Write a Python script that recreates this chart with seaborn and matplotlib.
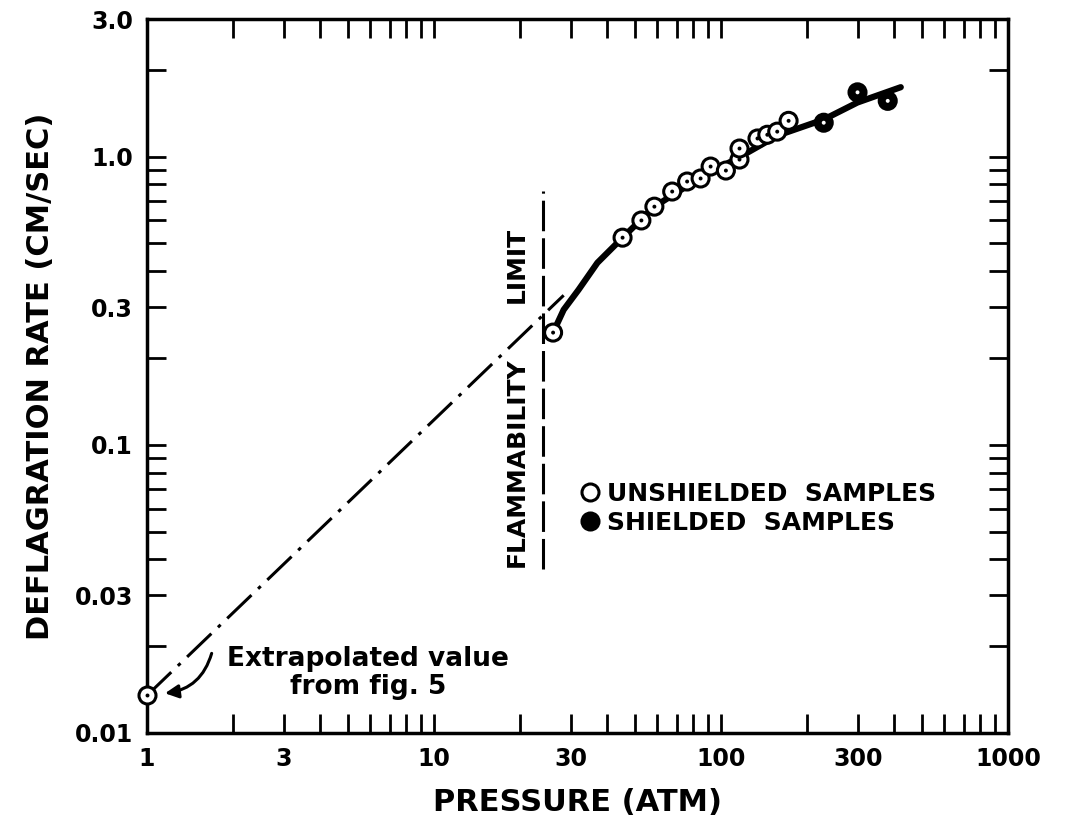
import pandas as pd
import matplotlib
matplotlib.use("Agg")
import matplotlib.pyplot as plt
import seaborn as sns
from matplotlib.ticker import NullFormatter

# values (pressure in atm, rate in cm/sec)
unshielded_p = [26.0, 45.4, 52.8, 58.6, 67.6, 76.2, 84.9, 92.0, 104, 116, 116, 134, 145, 157, 172]
unshielded_r = [0.245, 0.523, 0.600, 0.670, 0.756, 0.819, 0.839, 0.923, 0.894, 0.976, 1.066, 1.155, 1.19, 1.22, 1.33]
shielded_p = [228, 299, 381]
shielded_r = [1.31, 1.67, 1.56]

curve_p = [26.0, 28.3, 31.9, 37.1, 45.4, 58.6, 84.9, 117, 157.5, 228, 299, 423]
curve_r = [0.245, 0.294, 0.345, 0.428, 0.523, 0.670, 0.846, 1.0, 1.183, 1.344, 1.54, 1.74]

extrap_p = [1.0, 28.3]
extrap_r = [0.0135, 0.33]

limit_p = [24, 24]
limit_r = [0.037, 0.76]

x_ticks = [1, 3, 10, 30, 100, 300, 1000]
x_tick_labels = ["1", "3", "10", "30", "100", "300", "1000"]
y_ticks = [0.01, 0.03, 0.1, 0.3, 1.0, 3.0]
y_tick_labels = ["0.01", "0.03", "0.1", "0.3", "1.0", "3.0"]

sns.set_style("ticks")
plt.rcParams['font.family'] = ['DejaVu Sans']
plt.rcParams['font.weight'] = 'bold'
for key in ["text.color", "axes.labelcolor", "axes.edgecolor", "xtick.color", "ytick.color"]:
    plt.rcParams[key] = "black"

samples = pd.DataFrame({
    "pressure": unshielded_p + shielded_p,
    "rate": unshielded_r + shielded_r,
    "sample": ["UNSHIELDED  SAMPLES"] * len(unshielded_p) + ["SHIELDED  SAMPLES"] * len(shielded_p),
})

fig = plt.figure(figsize=(10.72, 8.27), dpi=100)
ax = fig.add_axes([147 / 1072, 94 / 827, 861 / 1072, 714 / 827])
ax.set_xscale("log")
ax.set_yscale("log")

# fitted curve, extrapolation and flammability limit
sns.lineplot(x=curve_p, y=curve_r, sort=False, estimator=None, color="black", lw=4.5, ax=ax)
ax.plot(extrap_p, extrap_r, color="black", lw=2.2, linestyle=(0, (11, 3, 1.2, 3)))
ax.plot(limit_p, limit_r, color="black", lw=2.2, linestyle=(0, (10, 2.3)))

# data points
sns.scatterplot(data=samples, x="pressure", y="rate", hue="sample",
                palette={"UNSHIELDED  SAMPLES": "white", "SHIELDED  SAMPLES": "black"},
                edgecolor="black", linewidth=2.2, s=150, zorder=4, ax=ax)
sns.scatterplot(data=samples, x="pressure", y="rate", hue="sample",
                palette={"UNSHIELDED  SAMPLES": "black", "SHIELDED  SAMPLES": "white"},
                linewidth=0, s=8, zorder=5, legend=False, ax=ax)
sns.scatterplot(x=extrap_p[:1], y=extrap_r[:1], color="white", edgecolor="black",
                linewidth=2.2, s=150, zorder=4, clip_on=False, ax=ax)
sns.scatterplot(x=extrap_p[:1], y=extrap_r[:1], color="black", linewidth=0, s=8,
                zorder=5, clip_on=False, ax=ax)

ax.set_xlim(1, 1000)
ax.set_ylim(0.01, 3.0)

ax.set_xticks(x_ticks)
ax.set_xticklabels(x_tick_labels)
ax.set_xticks([2, 4, 5, 6, 7, 8, 9, 20, 40, 50, 60, 70, 80, 90, 200, 400, 500, 600, 700, 800, 900], minor=True)
ax.set_yticks(y_ticks)
ax.set_yticklabels(y_tick_labels)
ax.set_yticks([0.02, 0.04, 0.05, 0.06, 0.07, 0.08, 0.09, 0.2, 0.4, 0.5, 0.6, 0.7, 0.8, 0.9, 2.0], minor=True)
ax.xaxis.set_minor_formatter(NullFormatter())
ax.yaxis.set_minor_formatter(NullFormatter())
ax.tick_params(which="both", direction="in", top=True, right=True, length=14, width=2,
               labelsize=17, pad=10, colors="black")
for s in ax.spines.values():
    s.set_linewidth(2.5)
    s.set_color("black")

ax.set_xlabel("PRESSURE (ATM)", fontsize=22, fontweight="bold", labelpad=12)
ax.set_ylabel("DEFLAGRATION RATE (CM/SEC)", fontsize=22, fontweight="bold", labelpad=14)

ax.text(19.5, 0.0873, "FLAMMABILITY", rotation=90, ha="center", va="center", fontsize=18)
ax.text(19.5, 0.42, "LIMIT", rotation=90, ha="center", va="center", fontsize=18)

ax.annotate("", xy=(1.13, 0.0137), xytext=(1.69, 0.0193),
            arrowprops=dict(arrowstyle="-|>", color="black", lw=2.2,
                            connectionstyle="arc3,rad=-0.35", mutation_scale=20))
ax.text(5.9, 0.0161, "Extrapolated value\nfrom fig. 5", ha="center", va="center",
        fontsize=19, linespacing=1.1)

ax.legend(loc="upper left", bbox_to_anchor=(0.491, 0.366), frameon=False,
          prop={"size": 18, "weight": "bold"}, handlelength=0.8, handletextpad=0.3,
          labelspacing=0.2, borderaxespad=0)

fig.savefig("out.png", dpi=100)
